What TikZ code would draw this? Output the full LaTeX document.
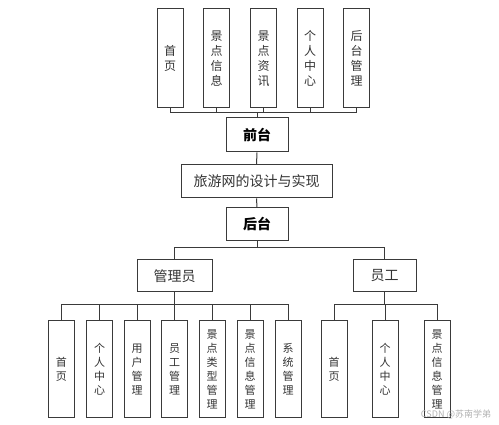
\documentclass[tikz,border=0pt]{standalone}
\usepackage{fontspec}
\newfontfamily\cjk{Noto Sans CJK SC}
\definecolor{linec}{HTML}{3A3A3A}
\definecolor{txtc}{HTML}{333333}
\begin{document}
\begin{tikzpicture}[x=1pt,y=1pt,
  box/.style={draw=linec, line width=1pt, fill=white, inner sep=0pt, text=txtc, font=\cjk},
  topv/.style={box, minimum width=26pt, minimum height=99pt, align=center, font=\cjk\fontsize{12}{15}\selectfont},
  lowv/.style={box, minimum width=26pt, minimum height=97pt, align=center, font=\cjk\fontsize{11}{14}\selectfont},
  hbox/.style={box, font=\cjk\fontsize{14}{16}\selectfont},
  bbox/.style={box, text=black, font=\cjk\bfseries\fontsize{14}{16}\selectfont},
  conn/.style={draw=linec, line width=1pt}
]
\useasboundingbox (0,0) rectangle (499,-425);
\fill[white] (0,0) rectangle (499,-425);
% top row
\node[topv] (t1) at (170,-58.5) {首\\页};
\node[topv] (t2) at (216.5,-58.5) {景\\点\\信\\息};
\node[topv] (t3) at (263.5,-58.5) {景\\点\\资\\讯};
\node[topv] (t4) at (310,-58.5) {个\\人\\中\\心};
\node[topv] (t5) at (356.5,-58.5) {后\\台\\管\\理};
% middle
\node[bbox, minimum width=62pt, minimum height=34pt] (qt) at (257,-135) {前台};
\node[hbox, minimum width=151pt, minimum height=33pt] (title) at (256.5,-181.5) {旅游网的设计与实现};
\node[bbox, minimum width=62pt, minimum height=33pt] (ht) at (257,-224.5) {后台};
\node[hbox, minimum width=75pt, minimum height=32pt] (gly) at (174.5,-276) {管理员};
\node[hbox, minimum width=63pt, minimum height=32pt] (yg) at (384.5,-276) {员工};
% lower left
\node[lowv] (a1) at (61.5,-369.5) {首\\页};
\node[lowv] (a2) at (99.5,-369.5) {个\\人\\中\\心};
\node[lowv] (a3) at (137,-369.5) {用\\户\\管\\理};
\node[lowv] (a4) at (174.5,-369.5) {员\\工\\管\\理};
\node[lowv] (a5) at (212,-369.5) {景\\点\\类\\型\\管\\理};
\node[lowv] (a6) at (250,-369.5) {景\\点\\信\\息\\管\\理};
\node[lowv] (a7) at (288,-369.5) {系\\统\\管\\理};
% lower right
\node[lowv] (c1) at (334,-369.5) {首\\页};
\node[lowv] (c2) at (385,-369.5) {个\\人\\中\\心};
\node[lowv] (c3) at (437,-369.5) {景\\点\\信\\息\\管\\理};
% bus coordinates
\coordinate (b1) at (0,-113);
\coordinate (b2) at (0,-248);
\coordinate (b3) at (0,-305);
% top connectors
\draw[conn] (t1.south) -- (t1.south |- b1) -- (t5.south |- b1) -- (t5.south);
\foreach \n in {t2,t3,t4} \draw[conn] (\n.south) -- (\n.south |- b1);
\draw[conn] (qt.north) -- (qt.north |- b1);
\draw[conn] (qt.south) -- (title.north);
\draw[conn] (title.south) -- (ht.north);
% mid bus
\draw[conn] (ht.south) -- (ht.south |- b2);
\draw[conn] (gly.north) -- (gly.north |- b2) -- (yg.north |- b2) -- (yg.north);
% lower left bus
\draw[conn] (a1.north) -- (a1.north |- b3) -- (a7.north |- b3) -- (a7.north);
\foreach \n in {a2,a3,a4,a5,a6} \draw[conn] (\n.north) -- (\n.north |- b3);
\draw[conn] (gly.south) -- (gly.south |- b3);
% lower right bus
\draw[conn] (c1.north) -- (c1.north |- b3) -- (c3.north |- b3) -- (c3.north);
\draw[conn] (c2.north) -- (c2.north |- b3);
\draw[conn] (yg.south) -- (yg.south |- b3);
% watermark
\node[text=gray!60, font=\cjk\fontsize{9}{10}\selectfont, inner sep=0pt] (wm) at (456,-414) {CSDN @苏南学弟};
\end{tikzpicture}
\end{document}
